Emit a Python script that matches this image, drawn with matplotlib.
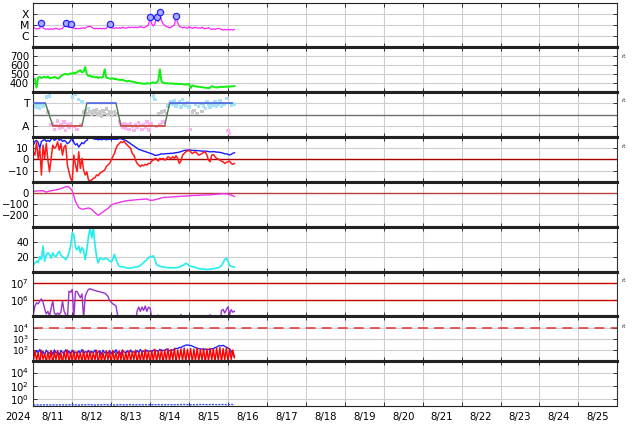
import numpy as np
import matplotlib
matplotlib.use('Agg')
import matplotlib.pyplot as plt
from matplotlib.ticker import FixedLocator, NullLocator, FixedFormatter

# time grids, hours from 2024-08-11 00UT
hours = np.arange(125)
hours2 = np.arange(0, 125, 2)

day_labels = ['8/11', '8/12', '8/13', '8/14', '8/15', '8/16', '8/17', '8/18',
              '8/19', '8/20', '8/21', '8/22', '8/23', '8/24', '8/25']

# X-ray flux, units of 1e-6 W/m2 (C-class)
xray_c = [6.3, 5.0, 4.5, 4.5, 5.0, 15, 5.6, 4.5, 4.0, 4.5, 4.0, 4.5,
          4.0, 4.5, 5.0, 4.5, 4.0, 4.5, 5.0, 7.1, 15, 7.1, 5.6, 13,
          6.3, 5.0, 4.5, 5.0, 4.5, 5.0, 5.0, 5.6, 5.0, 6.3, 7.1, 7.9,
          6.3, 5.0, 4.5, 5.0, 4.5, 5.0, 4.5, 5.0, 4.5, 5.0, 7.9, 13,
          6.3, 5.0, 5.0, 5.6, 5.0, 5.6, 5.0, 6.3, 5.6, 5.0, 5.6, 6.3,
          5.6, 6.3, 5.6, 6.3, 5.6, 6.3, 7.1, 6.3, 5.6, 6.3, 7.9, 10,
          47, 12.6, 7.9, 12.6, 47, 20, 130, 25, 12.6, 9, 7.1, 6.3,
          5.6, 6.3, 7.9, 10, 58, 16, 7.9, 6.3, 5.6, 6.3, 5.6, 5.0,
          7.1, 5.6, 5.0, 5.6, 6.3, 5.0, 5.6, 5.0, 6.3, 5.0, 4.5, 5.0,
          5.6, 4.5, 4.0, 4.5, 4.0, 4.5, 5.0, 4.5, 4.0, 3.5, 4.0, 3.5,
          4.0, 3.5, 4.0, 3.5, 4.0]
flare_hours = [5, 20, 23, 47, 72, 76, 78, 88]
flare_peak_c = [15, 15, 13, 13, 47, 47, 130, 58]

# solar wind speed km/s
speed = [455, 448, 350, 462, 470, 458, 466, 472, 462, 475, 455, 462,
         460, 470, 465, 452, 458, 478, 490, 500, 505, 495, 502, 510,
         505, 518, 510, 525, 535, 545, 520, 530, 580, 500, 480, 485,
         470, 475, 465, 470, 458, 468, 462, 470, 555, 462, 458, 452,
         450, 455, 445, 448, 440, 438, 435, 440, 430, 425, 420, 428,
         420, 418, 415, 410, 400, 405, 400, 395, 395, 392, 400, 398,
         395, 405, 410, 400, 405, 430, 555, 420, 405, 400, 400, 398,
         395, 398, 395, 392, 395, 390, 390, 392, 390, 385, 385, 388,
         390, 345, 375, 370, 365, 362, 360, 358, 355, 352, 350, 348,
         345, 350, 368, 360, 355, 352, 355, 358, 360, 358, 360, 362,
         360, 362, 365, 366, 368]

# IMF sector (T / A) and phi angle (deg)
sector_hours = [0, 7.5, 12, 30, 33, 51, 54, 81, 84, 122.5]
sector_side = ['T', 'T', 'A', 'A', 'T', 'T', 'A', 'A', 'T', 'T']
phi = [250, 265, 240, 255, 230, 260, 245, 270,
       320, 200, 330,
       100, 110, 60, 90, 130, 70, 100, 80, 120, 50, 95, 75, 110, 320, 85, 340, 60, 300, 100, 280,
       200, 215, 190, 230, 205, 180, 210, 195, 220, 185, 200, 170, 210, 190, 225, 180, 200, 195,
       175, 205, 190, 185,
       120, 100, 80, 110, 70, 95, 60, 105, 85, 50, 100, 75, 115, 90, 60, 100, 80, 120, 55, 95,
       110, 330, 300, 85, 190, 100, 200, 120,
       210, 190, 250, 270, 280, 260, 295, 250, 270, 285, 240, 300, 265, 255, 275, 240, 60, 200,
       215, 260, 190, 245, 270, 205, 250, 230, 280, 260, 240, 270, 255, 280, 250, 265, 290, 245,
       270, 260, 310, 50, 30, 255, 270, 260]

# IMF Bt and Bz (nT)
bt = [12.7, 16, 17, 15, 10, 16, 17, 18, 16, 17, 16, 18,
      19, 17, 18, 19, 17, 18, 16, 17, 16, 14, 15, 17,
      20, 15, 13, 14, 11, 13, 15, 14, 16, 17, 19, 19.5,
      19, 18.5, 18, 18, 17.5, 18, 17.5, 18, 18, 17.5, 18, 18,
      18, 18, 18, 18, 18, 18.5, 18.5, 18, 17.5, 17, 16, 15,
      14, 13, 12, 11, 10, 9, 8.5, 8, 7.5, 7, 6.5, 6,
      5.5, 5, 4.5, 3.5, 3.8, 4, 4.5, 5, 4.8, 5, 5.2, 5.2,
      5.3, 5.5, 5.5, 5.8, 6, 6.2, 6.5, 7, 7.5, 8, 8.2, 8.3,
      8.5, 8.3, 8, 8, 8, 7.8, 7.8, 7.5, 7.5, 7.2, 7.5, 7.2,
      7, 6.8, 6.8, 7, 6.8, 6.5, 6.5, 6.2, 6, 5.5, 5, 5,
      4.5, 4, 4.5, 5.5, 6]
bz = [6.8, 3.8, 15.7, 0.9, 9.8, -13.9, 12.7, 0.9, 14.2, -0.6, -11, 0.9,
      12.7, 9.8, 11.2, 15.7, 8.3, 14.2, 3.8, 11.2, 12.7, -5, -11, -16.9,
      -19.8, 3.8, -5, -11, 6.8, -8, 0.9, -9.5, -13.9, -11, -18.4, -19.2,
      -18.4, -16.9, -16.3, -13.9, -14.5, -12.4, -11.5, -10.4, -9.5, -6.5, -5, -3.6,
      -0.6, 2.4, 5.3, 9.8, 12.7, 14.2, 15.7, 15.1, 16.3, 14.2, 12.7, 11.2,
      9.8, 5.3, 3.8, -0.6, -3.6, -5, -6.5, -5, -5.6, -4.4, -5, -3.6,
      -3.6, -1.5, -0.6, 0.9, 0.3, -1.5, 0.9, 0.3, 0.9, -0.6, 0.3, 2.4,
      1.5, 0.9, 2.4, 0.9, 3.3, 0.9, -3.6, -1.5, 3.8, 5.3, 6.8, 7.4,
      8.3, 6.8, 5.3, 6.2, 6.8, 5.3, 3.8, 4.4, 5.3, 6.2, 6.8, 3.8,
      -0.6, -2.1, 3.8, 4.4, 2.4, 0.9, 0.3, -0.6, -1.5, -2.1, -3.6, -2.7,
      -2.1, -1.5, -3.6, -4.4, -3.6]

# Dst index (nT), two-hourly
dst = [15, 18, 20, 21, 8, 18, 24, 28, 34, 45,
       57, 55, 20, -75, -130, -145, -140, -133, -145, -175,
       -199, -178, -157, -138, -108, -95, -88, -80, -73, -68,
       -65, -62, -59, -57, -55, -53, -65, -63, -56, -48,
       -40, -38, -36, -34, -32, -30, -28, -27, -25, -22,
       -21, -20, -18, -17, -16, -15, -12, -10, -7, -6,
       -10, -18, -30]

# solar wind density (/cc)
density = [9, 11, 14, 12, 20, 16, 34, 14, 22, 25, 23, 18,
           25, 21, 20, 24, 27, 22, 20, 18, 16, 19, 25, 34,
           52, 49, 32, 29, 34, 25, 32, 29, 16, 29, 47, 58,
           45, 58, 36, 20, 11.5, 18, 17, 16, 17, 18, 16, 14,
           13, 16, 23, 16, 11, 7, 6.5, 6, 6, 5, 4.5, 4.5,
           4.5, 5, 5.5, 6, 6, 7, 8, 10, 12, 14, 16, 18,
           20, 20, 21, 16, 9, 8, 7, 6.5, 6, 5.5, 5.5, 5,
           5, 5, 5, 5, 5, 5.5, 6, 7, 8, 9, 11, 10,
           8, 7, 6.5, 6, 5.5, 4.5, 4, 3.5, 3.5, 3, 3, 2.7,
           3, 3, 3.5, 3.6, 4, 4.9, 5, 6, 8, 12, 16, 18,
           14, 8, 7, 6.2, 6]

# >2MeV electron flux, log10
elec_log = [5.1, 5.62, 5.82, 5.75, 5.92, 6.05, 5.85, 5.45, 5.15, 5.3, 5.02, 5.5,
            5.92, 5.2, 5.1, 5.2, 5.1, 5.25, 5.92, 5.3, 5.1, 4.8, 6.52, 6.45,
            6.62, 4.9, 6.5, 6.5, 6.3, 6.12, 6.35, 4.9, 6.2, 6.45, 6.62, 6.66,
            6.62, 6.58, 6.56, 6.52, 6.5, 6.48, 6.45, 6.42, 6.4, 6.32, 6.2, 5.95,
            5.85, 5.75, 5.7, 5.62, 5.05, 4.5, 4.5, 4.5, 4.5, 4.5, 4.5, 4.5,
            4.5, 4.5, 4.5, 4.5, 5.32, 5.56, 5.3, 5.56, 5.35, 5.62, 5.3, 5.55,
            5.5, 4.9, 4.5, 4.5, 4.5, 5.08, 4.5, 4.5, 4.5, 4.5, 4.5, 4.5,
            4.5, 4.5, 4.5, 4.5, 4.5, 4.5, 4.5, 5.12, 4.5, 4.5, 4.5, 4.5,
            4.5, 4.5, 4.5, 4.5, 4.5, 4.5, 4.5, 4.5, 4.5, 4.5, 4.5, 4.5,
            4.5, 5.1, 4.5, 4.5, 4.5, 4.5, 4.5, 4.5, 5.35, 5.42, 5.2, 5.4,
            5.58, 5.1, 5.4, 5.25, 5.3]

# proton flux (blue / red)
proton_blue = [70, 40, 90, 55, 110, 45, 75, 35, 95, 60, 50, 85,
               40, 100, 55, 70, 35, 90, 60, 45, 105, 50, 80, 40,
               95, 55, 65, 40, 85, 50, 110, 45, 70, 60, 90, 40,
               75, 55, 100, 45, 65, 85, 40, 95, 55, 70, 50, 90,
               45, 80, 60, 105, 50, 75, 40, 95, 65, 55, 85, 45,
               100, 60, 70, 50, 90, 55, 110, 65, 80, 60, 95, 70,
               85, 65, 100, 75, 90, 70, 115, 80, 95, 85, 120, 100,
               85, 95, 100, 110, 140, 130, 170, 160, 210, 230, 270, 280,
               260, 250, 220, 190, 160, 140, 130, 120, 125, 110, 120, 105,
               115, 110, 130, 125, 160, 180, 220, 250, 230, 260, 210, 180,
               150, 120, 80, 40, 25]
proton_red = [9, 80, 12, 60, 7, 95, 14, 50, 8, 70, 11, 85,
              6, 65, 13, 90, 9, 55, 7, 75, 12, 100, 8, 60,
              10, 85, 6, 70, 13, 55, 9, 90, 7, 65, 11, 80,
              8, 60, 12, 95, 6, 75, 10, 55, 9, 85, 13, 70,
              7, 90, 11, 60, 8, 80, 12, 100, 6, 65, 10, 85,
              9, 70, 13, 95, 7, 60, 11, 85, 8, 110, 12, 75,
              6, 90, 10, 120, 8, 80, 13, 105, 7, 95, 11, 130,
              9, 110, 12, 140, 8, 100, 14, 125, 10, 150, 9, 115,
              13, 135, 8, 120, 11, 145, 9, 110, 12, 130, 7, 125,
              10, 140, 13, 115, 9, 150, 11, 170, 8, 135, 12, 160,
              9, 130, 14, 100, 20]

# bottom panel, two-hourly
bottom_vals = [0.14, 0.15, 0.14, 0.15, 0.15, 0.14, 0.15, 0.14, 0.15, 0.15,
               0.14, 0.15, 0.16, 0.15, 0.14, 0.15, 0.15, 0.16, 0.15, 0.14,
               0.15, 0.15, 0.16, 0.15, 0.15, 0.14, 0.15, 0.16, 0.15, 0.15,
               0.16, 0.15, 0.15, 0.16, 0.15, 0.16, 0.16, 0.15, 0.16, 0.16,
               0.15, 0.16, 0.16, 0.15, 0.16, 0.16, 0.17, 0.16, 0.16, 0.15,
               0.16, 0.16, 0.17, 0.16, 0.16, 0.17, 0.16, 0.16, 0.17, 0.16,
               0.16, 0.17, 0.16]


W, H = 634, 424
fig = plt.figure(figsize=(W / 100, H / 100), dpi=100)
axs = fig.subplots(9, 1, sharex=True, gridspec_kw=dict(hspace=0))
fig.subplots_adjust(left=33.3 / W, right=617.3 / W, top=1 - 2.5 / H, bottom=1 - 406 / H)

FS = 7.3


def style(ax, ticks, labels=None, log=False, fs=FS):
    if log:
        ax.set_yscale('log')
    ax.set_xlim(0, 360)
    ax.xaxis.set_major_locator(FixedLocator(np.arange(0, 361, 24)))
    ax.set_yticks(ticks)
    if labels is not None:
        ax.set_yticklabels(labels)
    ax.yaxis.set_minor_locator(NullLocator())
    ax.grid(True, which='major', color='#cfcfcf', lw=0.8)
    ax.set_axisbelow(True)
    ax.tick_params(which='major', direction='in', length=3, width=0.7, labelsize=fs,
                   pad=3, right=True, top=True, color='#333333')
    for s in ('left', 'right'):
        ax.spines[s].set_linewidth(0.8)
        ax.spines[s].set_color('#333333')
    for s in ('top', 'bottom'):
        ax.spines[s].set_linewidth(2.2)
        ax.spines[s].set_color('#222222')


# 1: X-ray
ax = axs[0]
ax.plot(hours, np.array(xray_c) * 1e-6, color='#ff22ff', lw=0.9)
ax.plot(flare_hours, np.array(flare_peak_c) * 1e-6, 'o', ms=4.5, mfc='#aaaaff', mec='#2222ff', mew=0.9)
style(ax, [1e-6, 1e-5, 1e-4], ['C', 'M', 'X'], log=True, fs=7.8)
ax.set_ylim(1e-7, 1e-3)
ax.spines['top'].set_linewidth(0.8)

# 2: speed
ax = axs[1]
ax.plot(hours, speed, color='#11ee11', lw=1.4)
style(ax, [400, 500, 600, 700])
ax.set_ylim(300, 800)

# 3: IMF sector
ax = axs[2]
phi_arr = np.array(phi)
cols = np.where(phi_arr > 225, '#a6e3fa', np.where(phi_arr < 135, '#ffb0f0', '#c8c8c8'))
ax.scatter(hours, phi_arr, s=6, c=cols, marker='s', linewidths=0, zorder=2)
ax.axhline(180, color='#707070', lw=1, zorder=1.5)
side_y = {'T': 270, 'A': 90}
sy = [side_y[s] for s in sector_side]
ax.plot(sector_hours, sy, color='#4d7a4d', lw=1, zorder=3)
for i in range(0, len(sector_hours), 2):
    c = '#5a6cff' if sector_side[i] == 'T' else '#e84a4a'
    ax.plot(sector_hours[i:i + 2], sy[i:i + 2], color=c, lw=1.1, zorder=4)
style(ax, [90, 270], ['A', 'T'], fs=7.8)
ax.set_ylim(0, 360)

# 4: Bt / Bz
ax = axs[3]
ax.axhline(0, color='#aa0000', lw=1, zorder=1.5)
ax.plot(hours, bt, color='#1a1aff', lw=1)
ax.plot(hours, bz, color='#ff1a1a', lw=1.1)
style(ax, [-10, 0, 10])
ax.set_ylim(-20, 20)

# 5: Dst
ax = axs[4]
ax.axhline(0, color='#b84040', lw=1, zorder=1.5)
ax.plot(hours2, dst, color='#ee33ee', lw=1)
style(ax, [-200, -100, 0])
ax.set_ylim(-300, 100)

# 6: density
ax = axs[5]
ax.plot(hours, density, color='#22eeee', lw=1.2)
style(ax, [20, 40])
ax.set_ylim(0, 60)

# 7: electrons
ax = axs[6]
ax.axhline(1e6, color='#cc0000', lw=1, zorder=1.5)
ax.axhline(1e7, color='#cc0000', lw=1, zorder=1.5)
ax.plot(hours, 10 ** np.array(elec_log), color='#9933cc', lw=1)
style(ax, [1e6, 1e7], log=True)
ax.set_ylim(1e5, 5e7)

# 8: protons
ax = axs[7]
ax.axhline(1e4, color='#dd3333', lw=1.1, dashes=(6.5, 4))
ax.plot(hours, proton_blue, color='#2222ff', lw=1)
ax.plot(hours, proton_red, color='#ff0000', lw=1)
style(ax, [1e2, 1e3, 1e4], log=True, fs=6.6)
ax.set_ylim(10, 1e5)

# 9: bottom
ax = axs[8]
ax.plot(hours2, bottom_vals, color='#3355ff', lw=1, ls=(0, (1.5, 0.8)))
style(ax, [1e0, 1e2, 1e4], log=True)
ax.set_ylim(0.1, 5e5)
ax.spines['bottom'].set_linewidth(0.8)
ax.xaxis.set_minor_locator(FixedLocator(np.arange(12, 360, 24)))
ax.xaxis.set_minor_formatter(FixedFormatter(day_labels))
ax.xaxis.set_major_formatter(FixedFormatter([''] * 16))
ax.tick_params(which='minor', length=0, labelsize=FS, pad=4.5, bottom=True, top=False)

fig.text(18 / W, 1 - 416.5 / H, '2024', ha='center', va='center', fontsize=FS)
for y in (57, 101, 146, 281, 326):
    fig.text(622 / W, 1 - y / H, 'rt', ha='left', va='center', fontsize=4, color='#333333')

fig.savefig('out.png', dpi=100)
